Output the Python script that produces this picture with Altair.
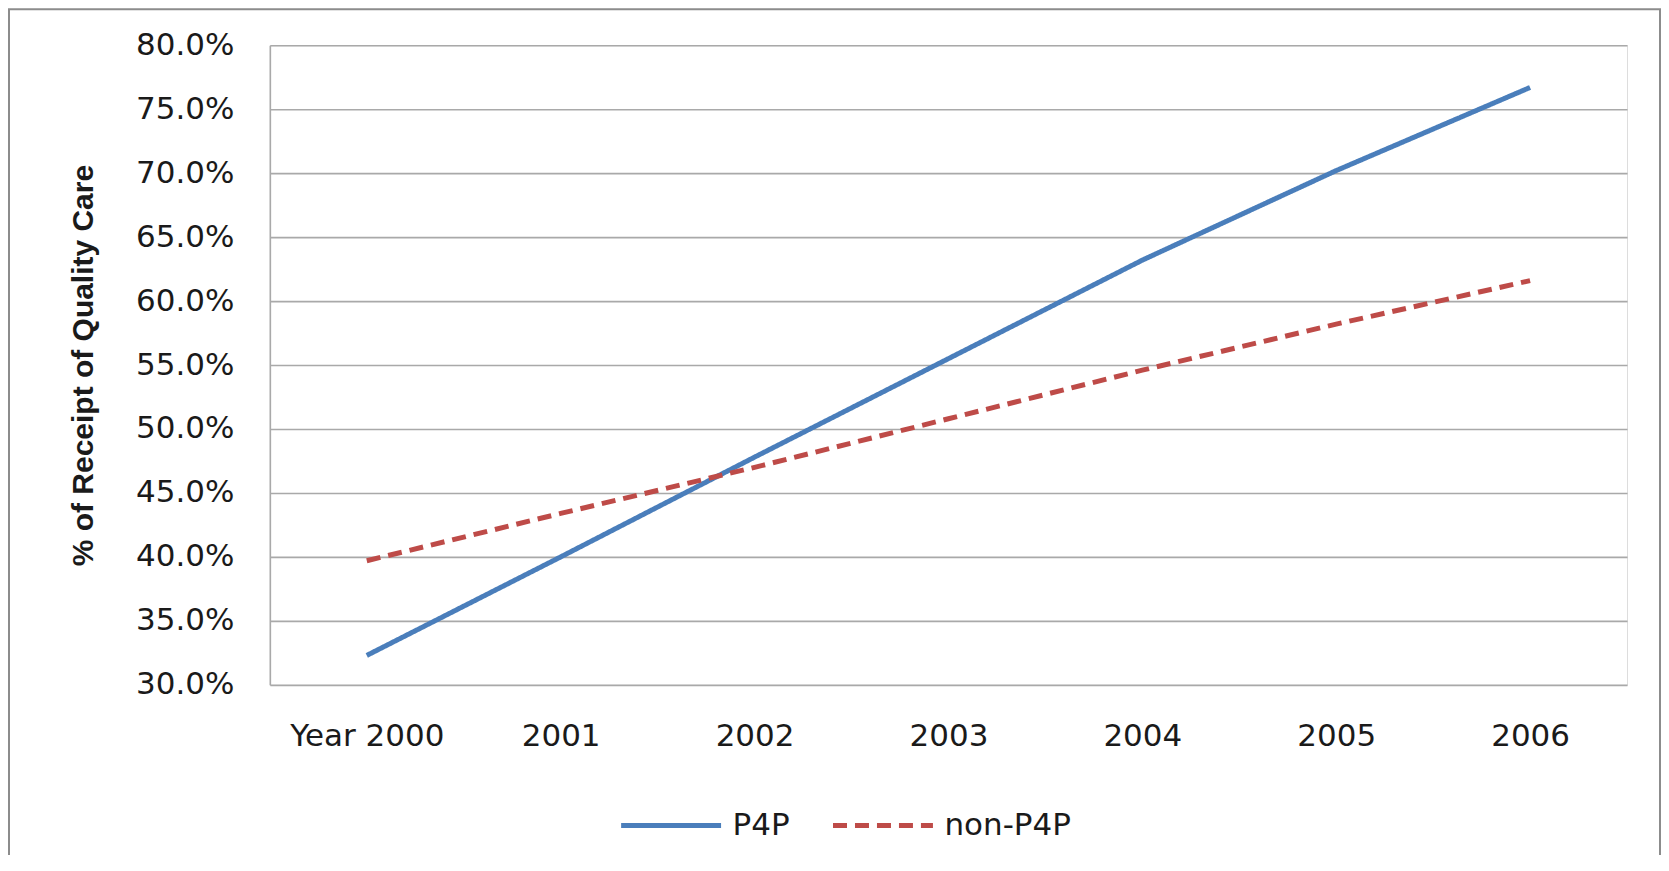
import altair as alt
import pandas as pd

years = ["Year 2000", "2001", "2002", "2003", "2004", "2005", "2006"]
p4p = [32.3, 40.0, 47.8, 55.5, 63.2, 70.2, 76.7]
non_p4p = [39.7, 43.4, 47.0, 50.8, 54.6, 58.2, 61.6]
series_names = ["P4P", "non-P4P"]
y_ticks = [30, 35, 40, 45, 50, 55, 60, 65, 70, 75, 80]

rows = []
for i, yr in enumerate(years):
    rows.append({"year": yr, "series": "P4P", "value": p4p[i], "order": i})
    rows.append({"year": yr, "series": "non-P4P", "value": non_p4p[i], "order": i})
df = pd.DataFrame(rows)

FONT = "DejaVu Sans"
TITLE_FONT = "Liberation Sans"
TEXT = "#1a1a1a"
GRID = "#a9a9a9"

legend_opts = dict(title=None, orient="none", direction="horizontal",
                   legendX=349, legendY=728,
                   symbolType="stroke", symbolSize=10000,
                   symbolStrokeWidth=5, labelFontSize=31,
                   labelFont=FONT, labelColor=TEXT,
                   labelOffset=9, columnPadding=32)

lines = alt.Chart(df).mark_line(strokeWidth=5, strokeCap="butt").encode(
    x=alt.X("year:N", sort=years,
            scale=alt.Scale(type="point", padding=0.5),
            axis=alt.Axis(title=None, labelAngle=0, ticks=False, tickSize=0,
                          domain=False, labelPadding=37, labelFontSize=31,
                          labelFont=FONT, labelColor=TEXT, grid=False)),
    y=alt.Y("value:Q",
            scale=alt.Scale(domain=[30, 80], nice=False, zero=False),
            axis=alt.Axis(title="% of Receipt of Quality Care", values=y_ticks,
                          labelExpr="format(datum.value, '.1f') + '%'",
                          ticks=False, tickSize=0, labelPadding=36,
                          labelFontSize=31, labelFont=FONT, labelColor=TEXT,
                          titleFontSize=30, titleFont=TITLE_FONT, titleFontWeight="bold",
                          titleColor=TEXT, titlePadding=37,
                          grid=True, gridColor=GRID, gridWidth=1.6,
                          domain=True, domainColor=GRID, domainWidth=1.6)),
    color=alt.Color("series:N",
                    scale=alt.Scale(domain=series_names, range=["#4a7ebb", "#be4b48"]),
                    legend=alt.Legend(**legend_opts)),
    strokeDash=alt.StrokeDash("series:N",
                              scale=alt.Scale(domain=series_names, range=[[1, 0], [14, 8]]),
                              legend=alt.Legend(**legend_opts)),
    order="order:Q",
)

frame_df = pd.DataFrame({"k": [0]})
frame = alt.Chart(frame_df).mark_rect(fillOpacity=0, stroke="#8c8c8c", strokeWidth=2).encode(
    x=alt.value(-261), x2=alt.value(1391), y=alt.value(-36), y2=alt.value(900)
)

chart = alt.layer(frame, lines).properties(
    width=1358, height=640,
    autosize=alt.AutoSizeParams(type="none"),
    padding={"left": 262, "top": 37, "right": 34, "bottom": 170},
).configure_view(stroke=None).configure(background="white")

chart.save("out.html", embed_options={"renderer": "svg", "actions": False})
